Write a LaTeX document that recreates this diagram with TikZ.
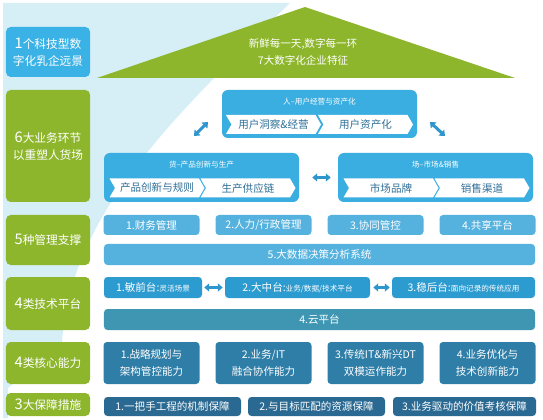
\documentclass[tikz,border=0pt]{standalone}
\usepackage{fontspec}
\setmainfont{Noto Sans CJK SC}
\usetikzlibrary{arrows.meta,shapes.symbols}
\definecolor{bglight}{HTML}{D6EEF6}
\definecolor{visionblue}{HTML}{3BB2E5}
\definecolor{leafgreen}{HTML}{8DB62C}
\definecolor{grpblue}{HTML}{3AAEE0}
\definecolor{mgmtblue}{HTML}{55B2DE}
\definecolor{techblue}{HTML}{2C9BD0}
\definecolor{cloudteal}{HTML}{3E96B2}
\definecolor{coreblue}{HTML}{2F7EA8}
\definecolor{guardblue}{HTML}{2A6991}
\definecolor{arrowblue}{HTML}{2E96CD}
\definecolor{chevtext}{HTML}{2D6E96}
\newcommand{\numfont}{\fontsize{12.5}{12}\selectfont}
\newcommand{\subtxt}{\fontsize{6.5}{7}\selectfont}

\begin{document}
\begin{tikzpicture}[
    x=0.3mm, y=-0.3mm,
    lbl/.style={rounded corners=4pt, minimum width=25.2mm, inner sep=0pt, align=center, text=white, font=\fontsize{10}{14.5}\selectfont},
    grp/.style={fill=grpblue, rounded corners=5pt, minimum width=58.5mm, inner sep=0pt},
    grptitle/.style={text=white, inner sep=0pt, font=\fontsize{6.5}{7}\selectfont},
    chev/.style={signal, signal from=west, signal to=east, signal pointer angle=120, fill=white, minimum width=28.5mm, minimum height=5.7mm, inner sep=0pt, text=chevtext, font=\fontsize{9}{10}\selectfont},
    tile/.style={rounded corners=3pt, minimum height=6.3mm, inner sep=0pt, align=center, text=white, font=\fontsize{9}{14.5}\selectfont},
    dbl/.style={{Triangle[length=1.5mm,width=2.4mm]}-{Triangle[length=1.5mm,width=2.4mm]}, line width=0.9mm, draw=arrowblue}
]
\useasboundingbox (0,0) rectangle (543,420);

% background wedge
\fill[bglight] (3,3) -- (290,3) .. controls (175,115) and (70,215) .. (62,342) -- (8,388) -- (8,418) -- (3,418) -- cycle;

% left column
\node[lbl, fill=visionblue, minimum height=15mm] (vision) at (48,52) {{\numfont 1}个科技型数\\字化乳企远景};
\node[lbl, fill=leafgreen, minimum height=33.6mm] (biz) at (48,146) {{\numfont 6}大业务环节\\以重塑人货场};
\node[lbl, fill=leafgreen, minimum height=15mm] (mgmt) at (48,240) {{\numfont 5}种管理支撑};
\node[lbl, fill=leafgreen, minimum height=15.9mm] (tech) at (48,303.5) {{\numfont 4}类技术平台};
\node[lbl, fill=leafgreen, minimum height=12.6mm] (core) at (48,363) {{\numfont 4}类核心能力};
\node[lbl, fill=leafgreen, minimum height=6.9mm] (guard) at (48,404.5) {{\numfont 3}大保障措施};

% roof
\fill[leafgreen] (97,78) -- (305,7) -- (515,78) -- cycle;
\node[text=white, align=center, font=\fontsize{9}{14.5}\selectfont] (slogan) at (303,51.5) {新鲜每一天,数字每一环\\7大数字化企业特征};

% people / goods / place
\node[grp, minimum height=14.4mm] (ren) at (319.5,114) {};
\node[grptitle] (rentitle) at (319.5,102) {人--用户经营与资产化};
\node[chev] (ren1) at (273.5,124.5) {用户洞察\&经营};
\node[chev] (ren2) at (365.5,124.5) {用户资产化};

\node[grp, minimum height=14.7mm] (huo) at (201.5,177.5) {};
\node[grptitle] (huotitle) at (201.5,165) {货--产品创新与生产};
\node[chev] (huo1) at (157,188) {产品创新与规则};
\node[chev] (huo2) at (248,188) {生产供应链};

\node[grp, minimum height=14.7mm] (chang) at (435.5,177.5) {};
\node[grptitle] (changtitle) at (435.5,165) {场--市场\&销售};
\node[chev] (chang1) at (391,188) {市场品牌};
\node[chev] (chang2) at (482,188) {销售渠道};

\coordinate (swa) at (194,136);
\coordinate (swb) at (208,122);
\coordinate (sea) at (430,122);
\coordinate (seb) at (445,136);
\draw[dbl] (swa) -- (swb);
\draw[dbl] (sea) -- (seb);
\draw[dbl, shorten <=3.9mm, shorten >=2.1mm] (huo.east) -- (chang.west);

% management
\node[tile, fill=mgmtblue, minimum width=28.8mm, minimum height=6mm] (fin) at (151.5,225) {1.财务管理};
\node[tile, fill=mgmtblue, minimum width=28.8mm, minimum height=6mm] (hr) at (263.5,225) {2.人力/行政管理};
\node[tile, fill=mgmtblue, minimum width=28.8mm, minimum height=6mm] (ctrl) at (375.5,225) {3.协同管控};
\node[tile, fill=mgmtblue, minimum width=28.8mm, minimum height=6mm] (share) at (487.5,225) {4.共享平台};
\node[tile, fill=mgmtblue, minimum width=129.3mm] (bigdata) at (319.5,254.5) {5.大数据决策分析系统};

% platforms
\node[tile, fill=techblue, minimum width=29.4mm] (front) at (153,287.5) {1.敏前台:{\subtxt 灵活场景}};
\node[tile, fill=techblue, minimum width=43.5mm] (middle) at (297.5,287.5) {2.大中台:{\subtxt 业务/数据/技术平台}};
\node[tile, fill=techblue, minimum width=42.9mm] (back) at (463.5,287.5) {3.稳后台:{\subtxt 面向记录的传统应用}};
\draw[dbl, shorten <=0.6mm, shorten >=0.6mm] (front.east) -- (middle.west);
\draw[dbl, shorten <=0.9mm, shorten >=0.6mm] (middle.east) -- (back.west);
\node[tile, fill=cloudteal, minimum width=129.3mm] (cloud) at (319.5,319.5) {4.云平台};

% capabilities
\node[tile, fill=coreblue, minimum width=28.8mm, minimum height=12.6mm] (cap1) at (151.5,363) {1.战略规划与\\架构管控能力};
\node[tile, fill=coreblue, minimum width=28.8mm, minimum height=12.6mm] (cap2) at (263.5,363) {2.业务/IT\\融合协作能力};
\node[tile, fill=coreblue, minimum width=28.8mm, minimum height=12.6mm] (cap3) at (375.5,363) {3.传统IT\&新兴DT\\双模运作能力};
\node[tile, fill=coreblue, minimum width=28.8mm, minimum height=12.6mm] (cap4) at (487.5,363) {4.业务优化与\\技术创新能力};

% guarantees
\node[tile, fill=guardblue, minimum width=41.1mm, minimum height=5.7mm] (g1) at (172.5,406.5) {1.一把手工程的机制保障};
\node[tile, fill=guardblue, minimum width=41.1mm, minimum height=5.7mm] (g2) at (316.5,406.5) {2.与目标匹配的资源保障};
\node[tile, fill=guardblue, minimum width=42.9mm, minimum height=5.7mm] (g3) at (464.5,406.5) {3.业务驱动的价值考核保障};
\end{tikzpicture}
\end{document}
